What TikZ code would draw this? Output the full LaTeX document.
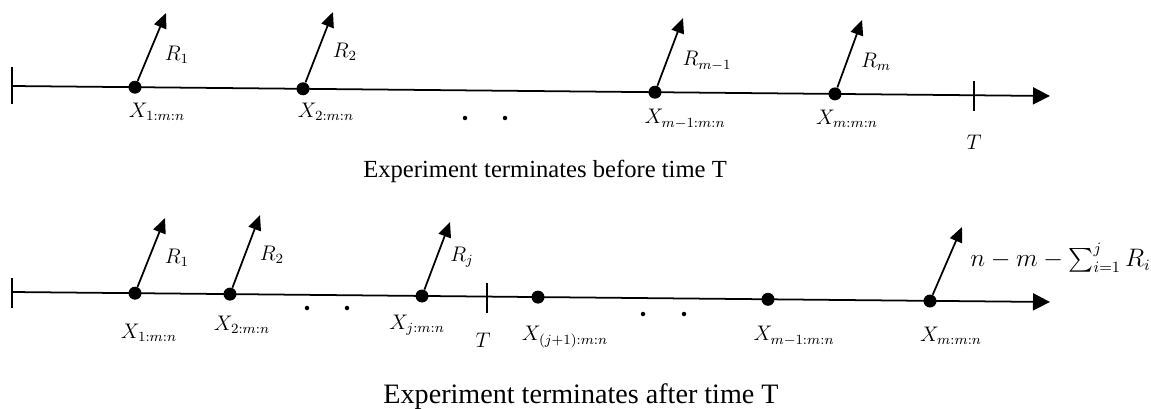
\documentclass[tikz,border=0pt]{standalone}
\usepackage{amsmath,amssymb}
\usepackage{fontspec}
\setmainfont{Liberation Serif}
\usetikzlibrary{arrows.meta,positioning}

\begin{document}
\begin{tikzpicture}[x=0.2mm,y=-0.2mm,
  axis/.style={line width=1pt,-{Triangle[length=3.4mm,width=3.4mm]}},
  rem/.style={line width=1pt,-{Triangle[length=3mm,width=2.6mm]}},
  tickmark/.style={line width=1pt},
  obs/.style={circle,fill,inner sep=0pt,minimum size=2.6mm},
  gap/.style={circle,fill,inner sep=0pt,minimum size=0.9mm},
  lab/.style={inner sep=1pt,font=\fontsize{12}{14}\selectfont},
  captext/.style={anchor=base,inner sep=0pt}]
\useasboundingbox (0,0) rectangle (1151,409);

% before time T
\coordinate (s1) at (12,86);
\coordinate (e1) at (1050,96);
\draw[axis] (s1) -- (e1);
\draw[tickmark] (12,67) -- (12,104);
\draw[tickmark] (974,81) -- (974,111);
\node[obs] (a1) at (135,87.2) {};
\node[obs] (a2) at (303,88.8) {};
\node[obs] (a3) at (655,92.2) {};
\node[obs] (a4) at (835,93.9) {};
\node[gap] (d1) at (465,118) {};
\node[gap] (d2) at (505,118) {};
\coordinate (r1) at (166,13);
\coordinate (r2) at (333,12);
\coordinate (r3) at (683,18);
\coordinate (r4) at (862,20);
\draw[rem] (a1) -- (r1);
\draw[rem] (a2) -- (r2);
\draw[rem] (a3) -- (r3);
\draw[rem] (a4) -- (r4);
\node[lab] (R1) at (177,55) {$R_1$};
\node[lab] (R2) at (345,52) {$R_2$};
\node[lab] (R3) at (707,61) {$R_{m-1}$};
\node[lab] (R4) at (876,62) {$R_m$};
\node[lab] (X1) at (157,112) {$X_{1:m:n}$};
\node[lab] (X2) at (326,112) {$X_{2:m:n}$};
\node[lab] (X3) at (685,119) {$X_{m-1:m:n}$};
\node[lab] (X4) at (847,119) {$X_{m:m:n}$};
\node[lab] (T1) at (974,142) {$T$};
\node[captext,font=\fontsize{14}{16}\selectfont] (c1) at (545,177) {Experiment terminates before time T};

% after time T
\coordinate (s2) at (12,292);
\coordinate (e2) at (1050,302);
\draw[axis] (s2) -- (e2);
\draw[tickmark] (12,278) -- (12,308);
\draw[tickmark] (487,283) -- (487,313);
\node[obs] (b1) at (135,293.2) {};
\node[obs] (b2) at (230,294.1) {};
\node[obs] (b3) at (422,296) {};
\node[obs] (b4) at (538,297.1) {};
\node[obs] (b5) at (768,299.3) {};
\node[obs] (b6) at (930,301) {};
\node[gap] (d3) at (307,308) {};
\node[gap] (d4) at (347,308) {};
\node[gap] (d5) at (643,314) {};
\node[gap] (d6) at (684,314) {};
\coordinate (q1) at (165,218);
\coordinate (q2) at (260,215);
\coordinate (q3) at (450,222);
\coordinate (q4) at (962,227);
\draw[rem] (b1) -- (q1);
\draw[rem] (b2) -- (q2);
\draw[rem] (b3) -- (q3);
\draw[rem] (b6) -- (q4);
\node[lab] (S1) at (177,258) {$R_1$};
\node[lab] (S2) at (272,255) {$R_2$};
\node[lab] (S3) at (462,257) {$R_j$};
\node[anchor=west,inner sep=0pt,font=\fontsize{13.5}{16}\selectfont] (S4) at (970,258) {$n-m-\sum_{i=1}^{j}R_i$};
\node[lab] (Y1) at (149,333) {$X_{1:m:n}$};
\node[lab] (Y2) at (242,325) {$X_{2:m:n}$};
\node[lab] (Y3) at (417,325) {$X_{j:m:n}$};
\node[lab] (T2) at (483,340) {$T$};
\node[lab] (Y4) at (565,337) {$X_{(j+1):m:n}$};
\node[lab] (Y5) at (794,336) {$X_{m-1:m:n}$};
\node[lab] (Y6) at (951,336) {$X_{m:m:n}$};
\node[captext,font=\fontsize{16}{19}\selectfont] (c2) at (581,403) {Experiment terminates after time T};
\end{tikzpicture}
\end{document}
